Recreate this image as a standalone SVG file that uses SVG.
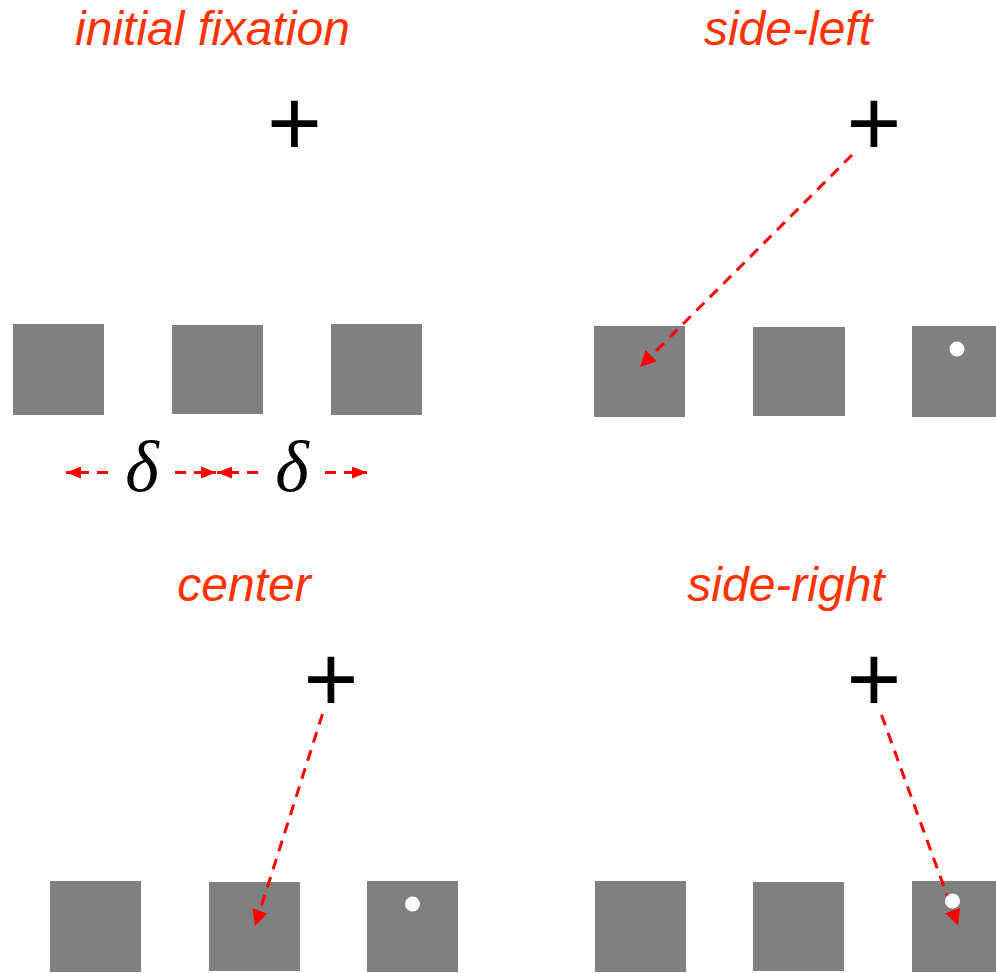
<svg xmlns="http://www.w3.org/2000/svg" width="996" height="973" viewBox="0 0 996 973">
<style>
.title{font-family:"Liberation Sans",Arial,sans-serif;font-style:italic;font-size:48px;fill:#ff3300;text-anchor:middle}
.cross{font-family:"Liberation Sans",Arial,sans-serif;font-size:94px;fill:#000;text-anchor:middle}
.sq{fill:#808080}
.dot{fill:#fff}
.arr{stroke:#ff0000;stroke-width:3;fill:none;stroke-dasharray:11 8}
.big{marker-end:url(#ah)}
.small{marker-end:url(#ahs)}
.delta{font-family:"Liberation Serif","Times New Roman",serif;font-style:italic;font-size:72px;fill:#000;text-anchor:middle}
</style>
<defs>
<marker id="ah" markerUnits="userSpaceOnUse" markerWidth="17" markerHeight="16" refX="16" refY="8" orient="auto">
<path d="M0,0 L16,8 L0,16 z" fill="#ff0000"/>
</marker>
<marker id="ahs" markerUnits="userSpaceOnUse" markerWidth="16" markerHeight="12" refX="15" refY="6" orient="auto">
<path d="M0,0 L15,6 L0,12 z" fill="#ff0000"/>
</marker>
</defs>
<rect width="996" height="973" fill="#fff"/>

<g id="panel-initial">
<text class="title" x="212.5" y="45">initial fixation</text>
<text class="cross" x="294.5" y="155">+</text>
<rect class="sq" x="13" y="324" width="91" height="91"/>
<rect class="sq" x="172" y="325" width="91" height="89"/>
<rect class="sq" x="331" y="324" width="91" height="91"/>
<text class="delta" x="142" y="491">δ</text>
<text class="delta" x="292" y="491">δ</text>
</g>

<g id="panel-side-left">
<text class="title" x="788" y="45">side-left</text>
<text class="cross" x="874" y="155">+</text>
<rect class="sq" x="594" y="326" width="91" height="91"/>
<rect class="sq" x="753" y="327" width="92" height="89"/>
<rect class="sq" x="912" y="326" width="84" height="91"/>
</g>

<g id="panel-center">
<text class="title" x="244" y="601">center</text>
<text class="cross" x="331" y="711">+</text>
<rect class="sq" x="50" y="881" width="91" height="91"/>
<rect class="sq" x="209" y="882" width="91" height="89"/>
<rect class="sq" x="367" y="881" width="91" height="91"/>
</g>

<g id="panel-side-right">
<text class="title" x="786" y="601">side-right</text>
<text class="cross" x="874" y="711">+</text>
<rect class="sq" x="595" y="881" width="91" height="91"/>
<rect class="sq" x="753" y="882" width="91" height="89"/>
<rect class="sq" x="912" y="881" width="84" height="91"/>
</g>

<g id="connectors">
<line class="arr small" x1="108" y1="472.5" x2="66" y2="472.5"/>
<line class="arr small" x1="175" y1="472.5" x2="216" y2="472.5"/>
<line class="arr small" x1="258" y1="472.5" x2="217" y2="472.5"/>
<line class="arr small" x1="325" y1="472.5" x2="367" y2="472.5"/>
<line class="arr big" x1="852" y1="155" x2="640" y2="367"/>
<line class="arr big" x1="322.5" y1="714" x2="255" y2="926"/>
<line class="arr big" x1="881.5" y1="715" x2="958" y2="925.5"/>
</g>

<g id="targets">
<circle class="dot" cx="957" cy="349" r="7.5"/>
<circle class="dot" cx="412.5" cy="904" r="7.5"/>
<circle class="dot" cx="952.5" cy="901" r="7.5"/>
</g>
</svg>
